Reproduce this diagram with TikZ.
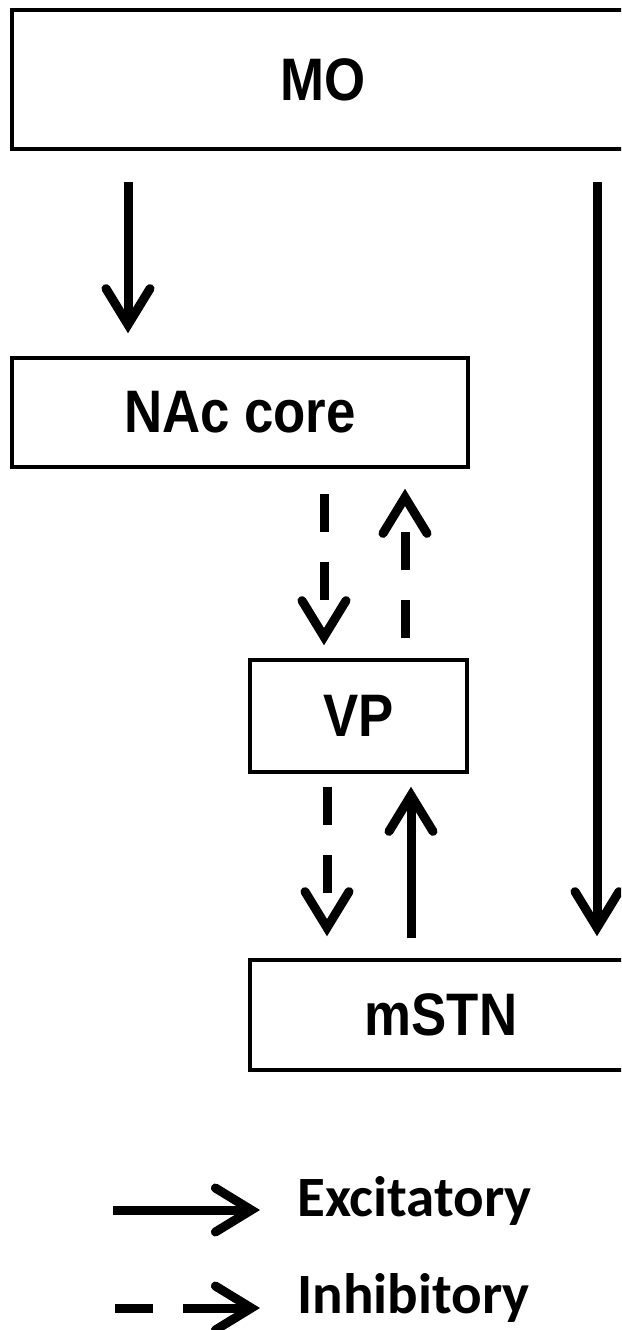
\documentclass[tikz,border=0pt]{standalone}
\usepackage{fontspec}
\setmainfont{Liberation Sans}
\newfontfamily\boxfont{Liberation Sans Bold}[FakeStretch=0.88]
\newfontfamily\legendfont{Carlito}
\usetikzlibrary{arrows.meta}
\begin{document}
\begin{tikzpicture}[x=1pt,y=-1pt,
  region/.style={draw=black, line width=3.5pt, fill=white, inner sep=0pt,
    font=\boxfont\fontsize{60}{64}\selectfont},
  link/.style={line width=9pt,
    -{Straight Barb[length=36pt,width=44pt,line cap=round,line join=miter]}},
  dashlink/.style={link, dash pattern=on 38pt off 30pt on 38pt off 300pt},
  legdash/.style={link, dash pattern=on 38pt off 30pt on 300pt},
  legtext/.style={font=\legendfont\fontsize{57}{60}\selectfont\bfseries,
    anchor=base west, inner sep=0pt}]
\useasboundingbox (0,0) rectangle (621,1330);
\clip (0,0) rectangle (621,1330);

% boxes
\node[region, minimum width=622pt, minimum height=139pt] (mo) at (323,79.5) {MO};
\node[region, minimum width=456pt, minimum height=109pt] (nac) at (240,412.5) {NAc core};
\node[region, minimum width=217pt, minimum height=112pt] (vp) at (358.5,716) {VP};
\node[region, minimum width=382pt, minimum height=110pt] (mstn) at (441,1015) {mSTN};

% column helpers
\coordinate (xa) at (128,0);
\coordinate (xb) at (597,0);
\coordinate (xc) at (324,0);
\coordinate (xd) at (405,0);
\coordinate (xe) at (327,0);
\coordinate (xf) at (411,0);

% connectors
\draw[link, shorten <=31pt, shorten >=23pt] (mo.south -| xa) -- (nac.north -| xa);
\draw[link, shorten <=31pt, shorten >=22pt] (mo.south -| xb) -- (mstn.north -| xb);
\draw[dashlink, shorten <=25pt, shorten >=13pt] (nac.south -| xc) -- (vp.north -| xc);
\draw[dashlink, shorten <=20pt, shorten >=20pt] (vp.north -| xd) -- (nac.south -| xd);
\draw[dashlink, shorten <=13pt, shorten >=22pt] (vp.south -| xe) -- (mstn.north -| xe);
\draw[link, shorten <=20pt, shorten >=13pt] (mstn.north -| xf) -- (vp.south -| xf);

% legend
\coordinate (ls1) at (113,1210);
\coordinate (le1) at (260,1210);
\coordinate (ls2) at (115,1308);
\coordinate (le2) at (260,1308);
\draw[link] (ls1) -- (le1);
\draw[legdash] (ls2) -- (le2);
\node[legtext] (exc) at (297,1216) {Excitatory};
\node[legtext] (inh) at (297,1313) {Inhibitory};
\end{tikzpicture}
\end{document}
